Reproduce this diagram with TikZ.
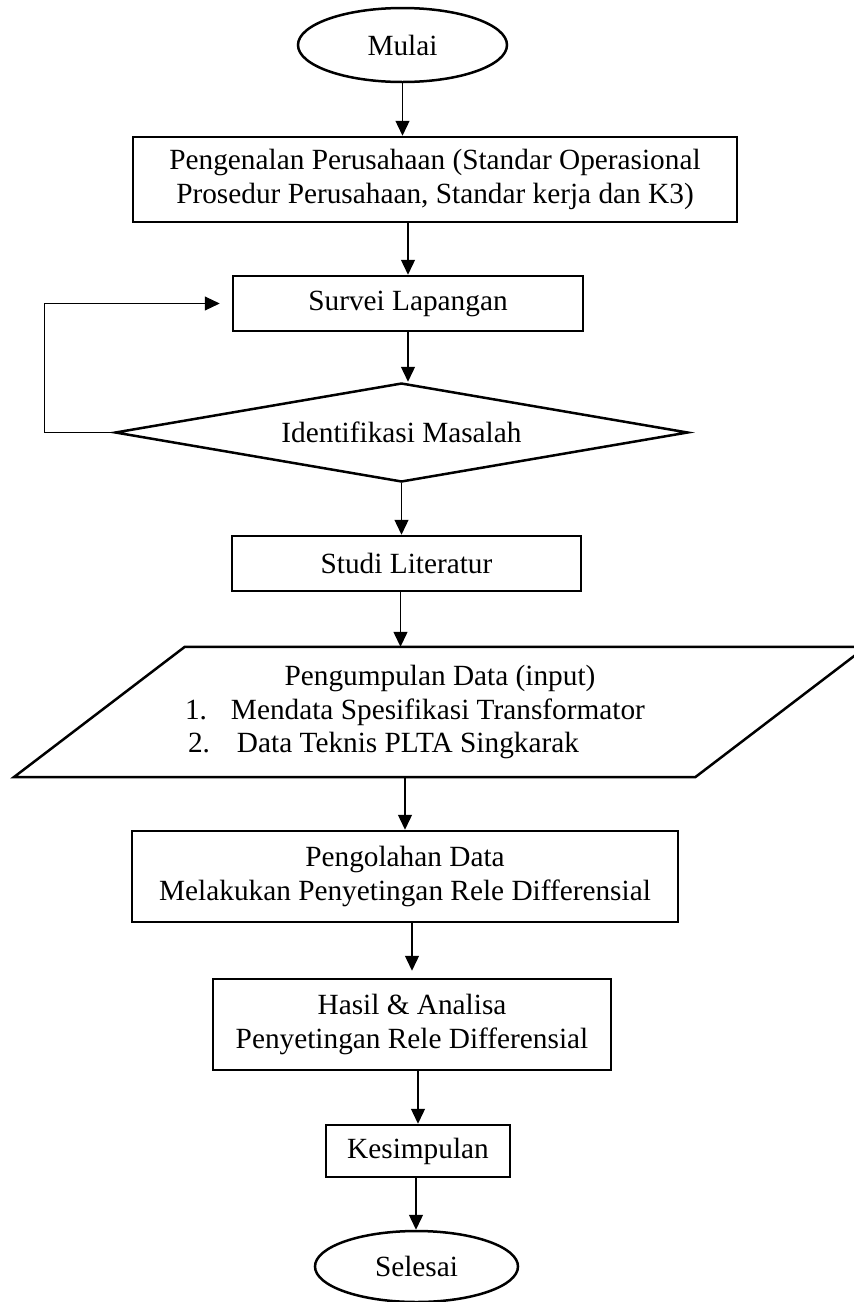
\documentclass[tikz,border=0pt]{standalone}
\usepackage{fontspec}
\setmainfont{Liberation Serif}
\usetikzlibrary{shapes.geometric,arrows.meta}

\begin{document}
\begin{tikzpicture}[x=1pt,y=-1pt,
  every node/.style={font=\fontsize{29.3}{33.5}\selectfont,inner sep=0pt},
  proses/.style={draw,line width=2.5pt,rectangle,align=center},
  terminal/.style={draw,line width=2.5pt,ellipse},
  keputusan/.style={draw,line width=2.5pt,diamond,aspect=5.8},
  alur/.style={line width=1.3pt,-{Triangle[length=15pt,width=14pt]}}]
\useasboundingbox (0,0) rectangle (854,1302);

\node[terminal,minimum width=209pt,minimum height=74pt] (mulai) at (402.5,45) {Mulai};
\node[proses,minimum width=604pt,minimum height=85pt] (kenal) at (435,179.5)
  {Pengenalan Perusahaan (Standar Operasional\\Prosedur Perusahaan, Standar kerja dan K3)};
\node[proses,minimum width=350pt,minimum height=55pt] (survei) at (408,303.5) {Survei Lapangan};
\node[keputusan,minimum width=573pt,minimum height=99pt] (identif) at (401.5,432.5) {Identifikasi Masalah};
\node[proses,minimum width=349pt,minimum height=55pt] (studi) at (406.5,563.5) {Studi Literatur};

% input data
\node[align=center,minimum width=510pt,minimum height=130pt] (data) at (440,712)
  {Pengumpulan Data (input)\\
   \makebox[510pt][l]{\makebox[46pt][l]{1.}Mendata Spesifikasi Transformator}\\
   \makebox[510pt][l]{\hspace*{3pt}\makebox[49pt][l]{2.}Data Teknis PLTA Singkarak}};
\draw[line width=2.5pt] ([xshift=-171pt]data.south west) -- (data.south east)
  -- ([xshift=171pt]data.north east) -- (data.north west) -- cycle;

\node[proses,minimum width=546pt,minimum height=91pt] (olah) at (405,876.5)
  {Pengolahan Data\\Melakukan Penyetingan Rele Differensial};
\node[proses,minimum width=398pt,minimum height=91pt] (hasil) at (412,1024.5)
  {Hasil \& Analisa\\Penyetingan Rele Differensial};
\node[proses,minimum width=184pt,minimum height=52pt] (simpul) at (418,1151) {Kesimpulan};
\node[terminal,minimum width=203pt,minimum height=71pt] (selesai) at (416.5,1266.5) {Selesai};

\coordinate (balik) at (44,432.5);

\draw[alur] (mulai.south) -- (mulai.south |- kenal.north);
\draw[alur] (kenal.south -| survei.north) -- (survei.north);
\draw[alur] (survei.south) -- (survei.south |- identif.north);
\draw[alur] (identif.south) -- (identif.south |- studi.north);
\draw[alur] ([xshift=-6pt]studi.south) -- ([xshift=-6pt]studi.south |- data.north);
\draw[alur] (olah.north |- data.south) -- (olah.north);
\draw[alur,shorten >=7pt] (olah.south -| hasil.north) -- (hasil.north);
\draw[alur] (hasil.south -| simpul.north) -- (simpul.north);
\draw[alur] ([xshift=-2pt]simpul.south) -- ([xshift=-2pt]simpul.south |- selesai.north);
\draw[alur,line width=1pt,shorten >=12pt] (identif.west) -- (balik) |- (survei.west);
\end{tikzpicture}
\end{document}
